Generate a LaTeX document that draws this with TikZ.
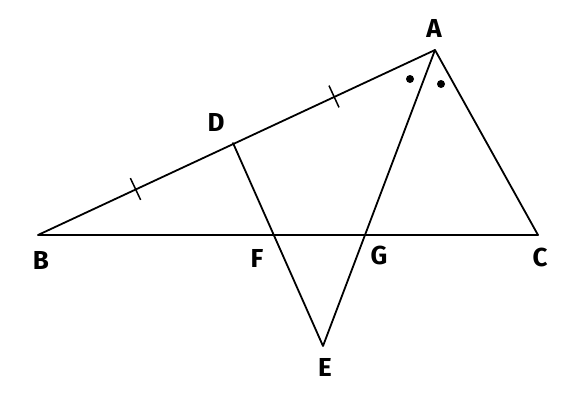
\documentclass[tikz,border=0pt]{standalone}
\usepackage{fontspec}
\setmainfont{Fira Sans}
\usetikzlibrary{calc}
\begin{document}
\begin{tikzpicture}[x=1pt,y=-1pt,
  seg/.style={line width=1.8pt,line cap=round,line join=round},
  lbl/.style={font=\fontsize{26}{26}\selectfont\bfseries,inner sep=0pt},
  tick/.style={line width=1.5pt},
  angdot/.style={circle,fill=black,inner sep=0pt,minimum size=8pt}]
\useasboundingbox (0,0) rectangle (587,400);
\coordinate (A) at (435,50);
\coordinate (B) at (38,235);
\coordinate (C) at (538,235);
\coordinate (D) at (233,143);
\coordinate (E) at (323,346);
\coordinate (F) at (274,235);
\coordinate (G) at (365,235);
\draw[seg] (B) -- (A) -- (C) -- cycle;
\draw[seg] (D) -- (E) -- (A);
% ticks
\coordinate (M1) at ($(B)!0.5!(D)$);
\coordinate (M2) at ($(D)!0.5!(A)$);
\draw[tick] ($(M1)!12pt!90:(D)$) -- ($(M1)!12pt!-90:(D)$);
\draw[tick] ($(M2)!12pt!90:(A)$) -- ($(M2)!12pt!-90:(A)$);
\node[angdot] (d1) at (410,79) {};
\node[angdot] (d2) at (441,84) {};
\node[lbl] (lA) at (434,28) {A};
\node[lbl] (lB) at (41,260) {B};
\node[lbl] (lC) at (540,257) {C};
\node[lbl] (lD) at (216,122) {D};
\node[lbl] (lE) at (325,367) {E};
\node[lbl] (lF) at (257,258) {F};
\node[lbl] (lG) at (379,255) {G};
\end{tikzpicture}
\end{document}
